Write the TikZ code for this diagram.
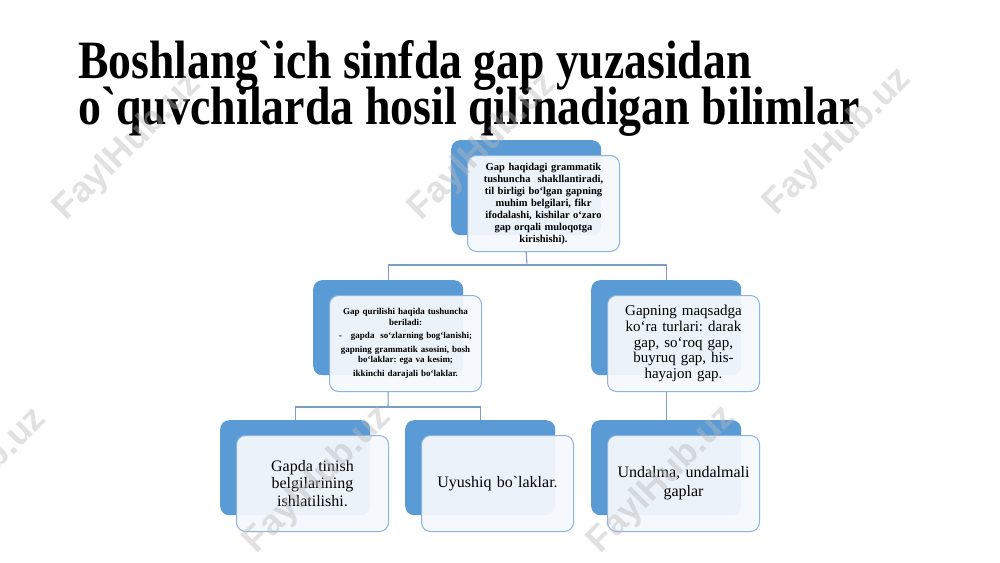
\documentclass[tikz,border=0pt]{standalone}
\usepackage{fontspec}
\setmainfont{Liberation Serif}
\newfontfamily\plainserif{Liberation Serif}
\newfontfamily\wmfont{Liberation Sans}
\newcommand\bktick{{\plainserif`}}
\definecolor{backblue}{HTML}{5B9BD5}
\definecolor{frontline}{HTML}{8DB3DF}
\definecolor{frontfill}{HTML}{F5F8FC}
\definecolor{connblue}{HTML}{7F9DC2}
\definecolor{wmgray}{HTML}{B8B8B8}
\tikzset{
  backbox/.style={fill=backblue, draw=none, rounded corners=9pt, minimum width=150pt, minimum height=95pt, inner sep=0pt, anchor=north west},
  frontbox/.style={fill=frontfill, fill opacity=0.94, text opacity=1, draw=frontline, line width=1pt, rounded corners=9pt, minimum width=152pt, minimum height=96pt, inner sep=2pt, anchor=north west, align=center, text width=146pt},
  connector/.style={draw=connblue, line width=1.1pt},
  titleline/.style={anchor=base west, inner sep=0pt, font=\fontsize{54}{60}\selectfont\bfseries},
  watermark/.style={rotate=45, text=wmgray, opacity=0.42, font=\wmfont\bfseries\fontsize{36}{40}\selectfont, inner sep=0pt}
}
\frenchspacing
\begin{document}
\frenchspacing
\begin{tikzpicture}[x=1pt,y=-1pt]
\useasboundingbox (0,0) rectangle (1000,562);
\fill[white] (0,0) rectangle (1000,562);

% title
\node[titleline] (title1) at (78,78) {\scalebox{0.845}[1]{Boshlang\bktick ich sinfda gap yuzasidan}};
\node[titleline] (title2) at (78,124) {\scalebox{0.85}[1]{o\bktick quvchilarda hosil qilinadigan bilimlar}};

% bus coordinates
\coordinate (bus1) at (527,265);
\coordinate (bus2) at (388,407);

% top
\node[backbox] (tb) at (451,140) {};
\node[frontbox, font=\fontsize{10.5}{12}\selectfont\bfseries] (t) at (467,155) {Gap haqidagi grammatik\\tushuncha\ \ shakllantiradi,\\til birligi bo‘lgan gapning\\muhim belgilari, fikr\\ifodalashi, kishilar o‘zaro\\gap orqali muloqotga\\kirishishi).};

% middle left
\node[backbox] (mlb) at (313,280) {};
\node[frontbox, font=\fontsize{9}{10.5}\selectfont\bfseries] (ml) at (329,295) {Gap qurilishi haqida tushuncha\\beriladi:\\[3pt]-\quad gapda\ \ so‘zlarning bog‘lanishi;\\[3pt]gapning grammatik asosini, bosh\\bo‘laklar: ega va kesim;\\[3pt]ikkinchi darajali bo‘laklar.};

% middle right
\node[backbox] (mrb) at (591,280) {};
\node[frontbox, font=\fontsize{15}{15.8}\selectfont] (mr) at (607,295) {Gapning maqsadga\\ko‘ra turlari: darak\\gap, so‘roq gap,\\buyruq gap, his-\\hayajon gap.};

% bottom row
\node[backbox] (b1b) at (220,420) {};
\node[frontbox, font=\fontsize{16}{17.5}\selectfont] (b1) at (236,435) {Gapda tinish\\belgilarining\\ishlatilishi.};

\node[backbox] (b2b) at (405,420) {};
\node[frontbox, font=\fontsize{16}{17.5}\selectfont] (b2) at (421,435) {Uyushiq bo\bktick laklar.};

\node[backbox] (b3b) at (591,420) {};
\node[frontbox, font=\fontsize{16}{19}\selectfont] (b3) at (607,435) {Undalma, undalmali\\gaplar};

% connectors
\draw[connector] (tb.center |- t.south) -- (bus1);
\draw[connector] (bus1) -| (mlb.north);
\draw[connector] (bus1) -| (mrb.north);
\draw[connector] (mlb.center |- ml.south) -- (bus2);
\draw[connector] (bus2) -| (b1b.north);
\draw[connector] (bus2) -| (b2b.north);
\draw[connector] (mrb.center |- mr.south) -- (b3b.north);

% watermarks
\node[watermark] (wm1) at (128,147) {FaylHub.uz};
\node[watermark] (wm2) at (483,147) {FaylHub.uz};
\node[watermark] (wm3) at (838,142) {FaylHub.uz};
\node[watermark] (wm4) at (-27,482) {FaylHub.uz};
\node[watermark] (wm5) at (318,480) {FaylHub.uz};
\node[watermark] (wm6) at (662,480) {FaylHub.uz};
\end{tikzpicture}
\end{document}
